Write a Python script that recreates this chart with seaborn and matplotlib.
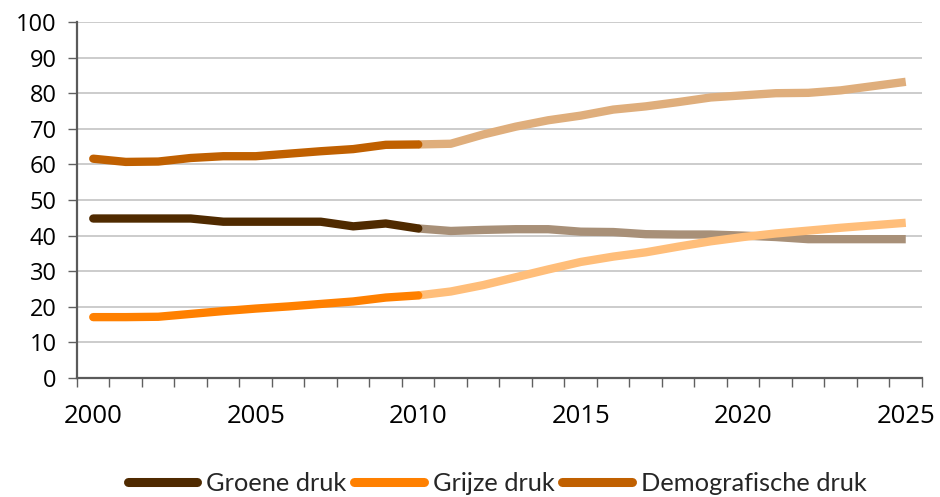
import numpy as np
import pandas as pd
import matplotlib
matplotlib.use("Agg")
import matplotlib.pyplot as plt
from matplotlib.ticker import MultipleLocator, FixedLocator
import seaborn as sns

years_hist = list(range(2000, 2011))
years_proj = list(range(2010, 2026))

groene_hist = [44.8, 44.8, 44.8, 44.8, 43.9, 43.9, 43.9, 43.9, 42.6, 43.4, 42.0]
grijze_hist = [17.1, 17.1, 17.2, 18.0, 18.8, 19.5, 20.1, 20.8, 21.5, 22.6, 23.2]
demo_hist = [61.6, 60.7, 60.8, 61.8, 62.3, 62.3, 63.0, 63.7, 64.3, 65.5, 65.6]

groene_proj = [42.0, 41.3, 41.6, 41.8, 41.8, 41.1, 41.0, 40.4, 40.3, 40.3, 40.0, 39.6, 39.0, 39.0, 39.0, 39.0]
grijze_proj = [23.2, 24.3, 26.1, 28.3, 30.5, 32.6, 34.1, 35.3, 36.9, 38.4, 39.6, 40.6, 41.4, 42.2, 42.9, 43.6]
demo_proj = [65.6, 65.8, 68.4, 70.6, 72.4, 73.7, 75.4, 76.3, 77.5, 78.8, 79.4, 80.0, 80.1, 80.8, 82.0, 83.2]

series_names = ["Groene druk", "Grijze druk", "Demografische druk"]
colors_hist = ["#4F2A00", "#FF8000", "#C06000"]
colors_proj = ["#A89078", "#FFBE7A", "#DFAE7C"]

hist = [groene_hist, grijze_hist, demo_hist]
proj = [groene_proj, grijze_proj, demo_proj]

sns.set_theme(style="white")
plt.rcParams["font.family"] = ["Open Sans", "DejaVu Sans"]

fig = plt.figure(figsize=(9.4, 4.97), dpi=100)
ax = fig.add_axes([77 / 940, 1 - 378 / 497, (922 - 77) / 940, (378 - 22) / 497])

lw = 6.0
for name, ch, cp, h, p in zip(series_names, colors_hist, colors_proj, hist, proj):
    dfp = pd.DataFrame({"year": years_proj, "value": p})
    sns.lineplot(data=dfp, x="year", y="value", ax=ax, color=cp, linewidth=lw,
                 solid_capstyle="butt", zorder=3)
    dfh = pd.DataFrame({"year": years_hist, "value": h})
    sns.lineplot(data=dfh, x="year", y="value", ax=ax, color=ch, linewidth=lw,
                 solid_capstyle="round", zorder=4, label=name)

ax.set_xlim(1999.5, 2025.5)
ax.set_ylim(0, 100)
ax.yaxis.set_major_locator(MultipleLocator(10))
ax.xaxis.set_major_locator(FixedLocator([2000, 2005, 2010, 2015, 2020, 2025]))
ax.xaxis.set_minor_locator(FixedLocator([1999.5 + k for k in range(27)]))
ax.set_xticklabels(["2000", "2005", "2010", "2015", "2020", "2025"])
ax.tick_params(axis="x", which="major", length=0, pad=19, labelsize=18.5, labelcolor="black")
ax.tick_params(axis="x", which="minor", length=6.5, width=1.0, color="#606060", direction="out", bottom=True)
ax.tick_params(axis="y", which="major", length=6.5, width=1.0, color="#606060", direction="out", left=True,
               labelsize=17, labelcolor="black", pad=8)
ax.set_xlabel("")
ax.set_ylabel("")
ax.grid(axis="y", color="#C4C4C4", linewidth=1.2, zorder=0)
ax.set_axisbelow(True)
for s in ["top", "right"]:
    ax.spines[s].set_visible(False)
for s in ["left", "bottom"]:
    ax.spines[s].set_color("#5A5A5A")
    ax.spines[s].set_linewidth(1.6)

ax.get_legend().remove()
leg = fig.legend(*ax.get_legend_handles_labels(), loc="center", bbox_to_anchor=(0.529, 0.028),
                 ncol=3, frameon=False, handlelength=2.75, handletextpad=0.35,
                 columnspacing=0.3, prop={"family": ["Lato", "DejaVu Sans"], "size": 18.3})
for line in leg.get_lines():
    line.set_linewidth(6.5)
    line.set_solid_capstyle("round")

fig.savefig("out.png", dpi=100, facecolor="white")
